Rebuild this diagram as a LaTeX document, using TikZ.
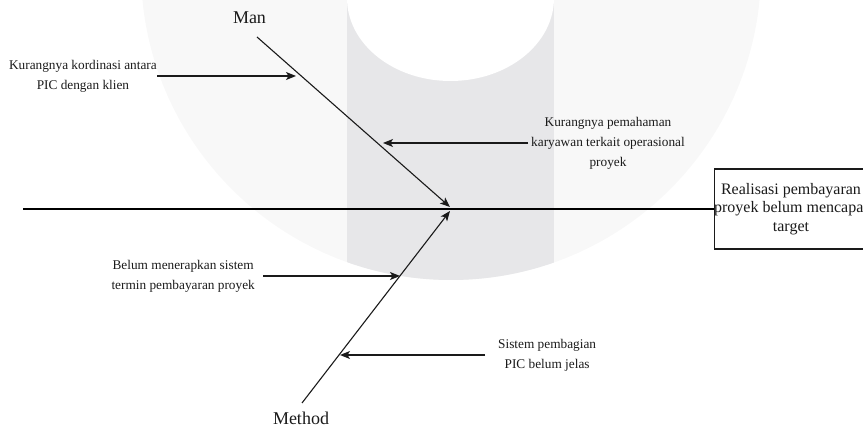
\documentclass[tikz,border=0pt]{standalone}
\usepackage{fontspec}
\setmainfont{Liberation Serif}
\usetikzlibrary{arrows.meta}
\definecolor{wmlight}{HTML}{F8F8F8}
\definecolor{wmband}{HTML}{E7E7E9}
\definecolor{ink}{HTML}{1A1A1A}
\tikzset{
  smalltxt/.style={align=center, inner sep=0pt, font=\fontsize{13.3}{20}\selectfont, text=ink},
  bigtxt/.style={inner sep=0pt, font=\fontsize{18}{22}\selectfont, text=ink},
  headbox/.style={draw=ink, line width=1.1pt, minimum width=152pt, minimum height=80pt, align=center, inner sep=0pt, font=\fontsize{16}{18.5}\selectfont, text=ink},
  bone/.style={draw=ink, line width=1.1pt, -{Stealth[length=10pt,width=8pt,inset=2.5pt]}},
  cause/.style={draw=ink, line width=1.3pt, -{Stealth[length=10pt,width=8pt,inset=2.5pt]}},
  spine/.style={draw=black, line width=1.5pt}
}
\begin{document}
\begin{tikzpicture}[x=1pt,y=-1pt]
\useasboundingbox (0,0) rectangle (863,427);
% watermark
\fill[wmlight] (451,-30) circle (310pt);
\begin{scope}
  \clip (451,-30) circle (310pt);
  \fill[wmband] (347,-10) rectangle (554,320);
\end{scope}
\fill[white] (450.5,-2) ellipse [x radius=103.5pt, y radius=83pt];
% head box and spine
\node[headbox] (eff) at (791,209) {Realisasi pembayaran\\proyek belum mencapai\\target};
\coordinate (tail) at (23,209);
\draw[spine] (tail) -- (eff.west);
% category bones
\node[bigtxt] (man) at (249.5,18) {Man};
\node[bigtxt] (method) at (301,418) {Method};
\coordinate (m0) at (257,37);
\coordinate (m1) at (450,207);
\coordinate (p0) at (302,403);
\coordinate (p1) at (450,211);
\draw[bone] (m0) -- (m1);
\draw[bone] (p0) -- (p1);
% causes
\node[smalltxt, anchor=east] (t1) at (157,76) {Kurangnya kordinasi antara\\PIC dengan klien};
\node[smalltxt, inner xsep=3pt, anchor=west] (t2) at (528,143) {Kurangnya pemahaman\\karyawan terkait operasional\\proyek};
\node[smalltxt, inner xsep=8pt, anchor=east] (t3) at (263,276) {Belum menerapkan sistem\\termin pembayaran proyek};
\node[smalltxt, inner xsep=13pt, anchor=west] (t4) at (485,355) {Sistem pembagian\\PIC belum jelas};
\coordinate (c1) at (296,76);
\coordinate (c2) at (383,143);
\coordinate (c3) at (400,276);
\coordinate (c4) at (340,355);
\draw[cause] (t1.east) -- (c1);
\draw[cause] (t2.west) -- (c2);
\draw[cause] (t3.east) -- (c3);
\draw[cause] (t4.west) -- (c4);
\end{tikzpicture}
\end{document}
